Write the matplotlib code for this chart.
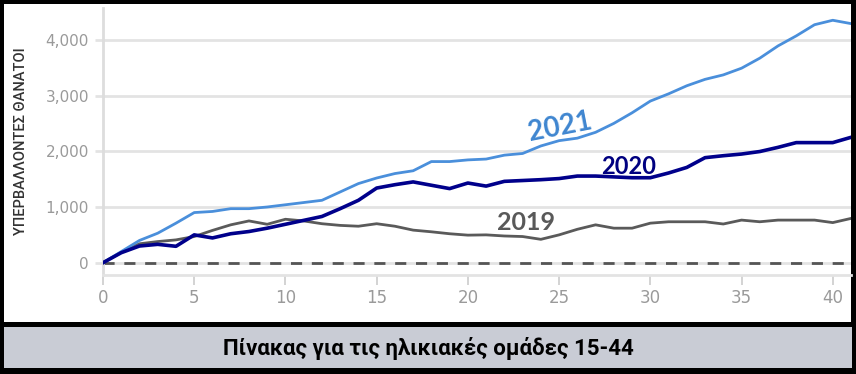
import matplotlib
matplotlib.use("Agg")
import matplotlib.pyplot as plt
from matplotlib.patches import Rectangle

weeks = list(range(0, 42))
deaths_2021 = [0, 200, 400, 530, 710, 900, 920, 970, 970, 1000,
               1040, 1080, 1120, 1270, 1420, 1520, 1600, 1650, 1815, 1815,
               1845, 1860, 1930, 1960, 2095, 2190, 2235, 2340, 2500, 2690,
               2900, 3030, 3175, 3290, 3370, 3490, 3670, 3890, 4070, 4270,
               4350, 4290]
deaths_2020 = [0, 180, 300, 330, 295, 500, 445, 520, 560, 620,
               690, 760, 830, 970, 1120, 1340, 1400, 1450, 1390, 1330,
               1430, 1375, 1460, 1475, 1490, 1510, 1555, 1555, 1540, 1525,
               1525, 1610, 1710, 1885, 1920, 1950, 1995, 2070, 2155, 2155,
               2155, 2250]
deaths_2019 = [0, 185, 340, 380, 410, 470, 580, 680, 750, 690,
               780, 750, 700, 670, 655, 700, 655, 585, 555, 520,
               495, 500, 480, 470, 420, 500, 600, 680, 620, 620,
               710, 735, 735, 735, 695, 765, 735, 765, 765, 765,
               720, 795]
yticks = [0, 1000, 2000, 3000, 4000]
xticks = [0, 5, 10, 15, 20, 25, 30, 35, 40]

W, H = 856, 374
fig = plt.figure(figsize=(W / 100, H / 100), dpi=100, facecolor="black")

# white chart panel and grey caption band
fig.patches.append(Rectangle((4 / W, (H - 322) / H), 847 / W, 318 / H,
                             transform=fig.transFigure, facecolor="white",
                             edgecolor="none", zorder=0))
fig.patches.append(Rectangle((4 / W, (H - 368) / H), 848 / W, 41 / H,
                             transform=fig.transFigure, facecolor="#c9ccd5",
                             edgecolor="none", zorder=0))

ax = fig.add_axes([103 / W, (H - 275) / H, 748 / W, 267 / H])
ax.set_zorder(2)
ax.set_facecolor("white")

ax.axhline(0, color="#555555", lw=2, ls=(0, (4, 3.5)), zorder=2)
ax.plot(weeks, deaths_2019, color="#5a5a5a", lw=2, zorder=3)
ax.plot(weeks, deaths_2021, color="#4a8fdb", lw=2, zorder=3)
ax.plot(weeks, deaths_2020, color="#00008b", lw=2.6, zorder=4)

ax.set_xlim(0, 41)
ax.set_ylim(-220, 4570)
ax.set_yticks(yticks, labels=["{:,}".format(v) for v in yticks])
ax.set_xticks(xticks)
ax.grid(axis="y", color="#e3e3e3", lw=2)
ax.set_axisbelow(True)

for side in ["top", "right"]:
    ax.spines[side].set_visible(False)
ax.spines["left"].set_color("#dddddd")
ax.spines["left"].set_linewidth(2)
ax.spines["bottom"].set_color("#e3e3e3")
ax.spines["bottom"].set_linewidth(2)

ax.tick_params(axis="y", length=6, width=2, color="#e3e3e3",
               labelcolor="#9a9a9a", labelsize=11, pad=4)
ax.tick_params(axis="x", length=7, width=1.2, color="#cccccc",
               labelcolor="#9a9a9a", labelsize=12, pad=3)

ax.set_ylabel("ΥΠΕΡΒΑΛΛΟΝΤΕΣ ΘΑΝΑΤΟΙ", color="#333333", fontsize=10.5,
              family="Roboto", fontweight="medium", labelpad=13)

fig.text(560 / W, (H - 127) / H, "2021", fontsize=20, fontweight="bold",
         family="Lato", color="#3f86d0", rotation=11,
         ha="center", va="center", zorder=5)
fig.text(629 / W, (H - 166) / H, "2020", fontsize=17, fontweight="bold",
         family="Lato", color="#000080", ha="center", va="center", zorder=5)
fig.text(526 / W, (H - 222) / H, "2019", fontsize=18, fontweight="bold",
         family="Lato", color="#595959", ha="center", va="center", zorder=5)

fig.text(428 / W, (H - 349) / H, "Πίνακας για τις ηλικιακές ομάδες 15-44",
         ha="center", va="center", fontsize=16, fontweight="bold",
         family="Roboto", color="black")

fig.savefig("out.png", dpi=100, facecolor="black")
